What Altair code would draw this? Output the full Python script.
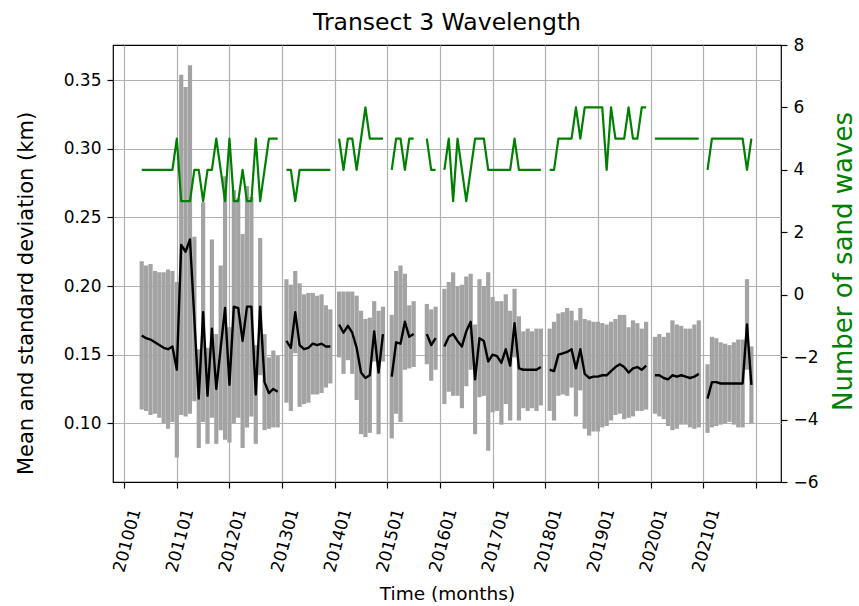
import altair as alt
import pandas as pd

# Monthly wavelength statistics for transect 3.
# Months are counted from January 2010 (0 = 201001); the record starts in May 2010.
month_start = 4

# mean wavelength (km); None marks a month without a survey
wave_mean = [
    0.164, 0.162, 0.161, 0.159, 0.157, 0.155, 0.154, 0.156,            # 2010-05 .. 2010-12
    0.139, 0.230, 0.225, 0.234, 0.176, 0.118, 0.181, 0.120, 0.169, 0.125, 0.155, 0.184,  # 2011
    0.128, 0.185, 0.184, 0.160, 0.185, 0.185, 0.121, 0.185, 0.130, 0.122, 0.125, 0.123,  # 2012
    None, 0.160, 0.155, 0.181, 0.157, 0.154, 0.155, 0.158, 0.157, 0.158, 0.156, 0.156,   # 2013
    None, 0.172, 0.166, 0.171, 0.166, 0.155, 0.137, 0.133, 0.135, 0.167, 0.137, 0.165,   # 2014
    None, 0.134, 0.159, 0.158, 0.174, 0.163, 0.165, None, None, 0.165, 0.157, 0.162,     # 2015
    None, 0.156, 0.163, 0.165, 0.160, 0.156, 0.167, 0.174, 0.132, 0.162, 0.160, 0.145,   # 2016
    0.150, 0.149, 0.144, 0.154, 0.142, 0.173, 0.140, 0.139, 0.139, 0.139, 0.139, 0.141,  # 2017
    None, 0.139, 0.138, 0.150, 0.151, 0.152, 0.154, 0.140, 0.154, 0.136, 0.133, 0.134,   # 2018
    0.134, 0.135, 0.135, 0.138, 0.141, 0.143, 0.141, 0.137, 0.140, 0.141, 0.139, 0.142,  # 2019
    None, 0.135, 0.135, 0.133, 0.132, 0.135, 0.134, 0.135, 0.134, 0.133, 0.134, 0.136,   # 2020
    None, 0.118, 0.130, 0.130, 0.129, 0.129, 0.129, 0.129, 0.129, 0.129, 0.172, 0.128,   # 2021
]

# standard deviation of the wavelength (km)
wave_std = [
    0.054, 0.053, 0.055, 0.052, 0.053, 0.055, 0.058, 0.055,
    0.064, 0.124, 0.120, 0.127, 0.060, 0.036, 0.080, 0.035, 0.065, 0.040, 0.060, 0.096,
    0.042, 0.085, 0.080, 0.078, 0.088, 0.080, 0.036, 0.050, 0.035, 0.026, 0.028, 0.026,
    None, 0.045, 0.046, 0.030, 0.045, 0.040, 0.040, 0.037, 0.036, 0.036, 0.030, 0.027,
    None, 0.024, 0.030, 0.025, 0.030, 0.038, 0.045, 0.043, 0.042, 0.022, 0.045, 0.020,
    None, 0.045, 0.052, 0.057, 0.035, 0.023, 0.024, None, None, 0.022, 0.026, 0.023,
    None, 0.042, 0.040, 0.045, 0.040, 0.045, 0.040, 0.035, 0.040, 0.043, 0.040, 0.065,
    0.042, 0.040, 0.045, 0.040, 0.040, 0.025, 0.038, 0.028, 0.030, 0.028, 0.030, 0.028,
    None, 0.030, 0.036, 0.030, 0.030, 0.032, 0.028, 0.035, 0.030, 0.040, 0.042, 0.040,
    0.040, 0.038, 0.037, 0.036, 0.035, 0.036, 0.038, 0.033, 0.035, 0.032, 0.030, 0.032,
    None, 0.028, 0.030, 0.030, 0.034, 0.040, 0.038, 0.036, 0.035, 0.036, 0.038, 0.039,
    None, 0.025, 0.033, 0.032, 0.030, 0.029, 0.028, 0.030, 0.032, 0.032, 0.033, 0.028,
]

# number of sand waves found along the transect
n_waves = [
    4, 4, 4, 4, 4, 4, 4, 4,
    5, 3, 3, 3, 4, 4, 3, 4, 4, 5, 4, 3,
    5, 3, 3, 4, 3, 3, 5, 3, 4, 5, 5, 5,
    None, 4, 4, 3, 4, 4, 4, 4, 4, 4, 4, 4,
    None, 5, 4, 5, 5, 4, 5, 6, 5, 5, 5, 5,
    None, 4, 5, 5, 4, 5, 5, None, None, 5, 4, 4,
    None, 4, 5, 3, 5, 4, 3, 4, 5, 5, 5, 4,
    4, 4, 4, 4, 4, 5, 4, 4, 4, 4, 4, 4,
    None, 4, 4, 5, 5, 5, 5, 6, 5, 6, 6, 6,
    6, 6, 4, 6, 5, 5, 5, 6, 5, 5, 6, 6,
    None, 5, 5, 5, 5, 5, 5, 5, 5, 5, 5, 5,
    None, 4, 5, 5, 5, 5, 5, 5, 5, 5, 4, 5,
]

# one label per January; the last tick (2022) stays unlabelled
tick_labels = ["201001", "201101", "201201", "201301", "201401", "201501",
               "201601", "201701", "201801", "201901", "202001", "202101", ""]
left_ticks = [0.10, 0.15, 0.20, 0.25, 0.30, 0.35]
right_ticks = [-6, -4, -2, 0, 2, 4, 6, 8]

FONT = "DejaVu Sans"
GREEN = "#008000"

months = list(range(month_start, month_start + len(wave_mean)))

# consecutive surveyed months form one unbroken line piece
segment = []
seg_id, gap = 0, True
for v in wave_mean:
    if v is None:
        segment.append(None)
        gap = True
        continue
    if gap:
        seg_id += 1
    gap = False
    segment.append(seg_id)

df = pd.DataFrame({"month": months, "mean": wave_mean, "std": wave_std,
                   "waves": n_waves, "seg": segment})
df = df.dropna(subset=["mean"]).copy()
df["seg"] = df["seg"].astype(int)
df["lo"] = df["mean"] - df["std"]
df["hi"] = df["mean"] + df["std"]

label_expr = "[" + ",".join(f"'{t}'" for t in tick_labels) + "][round(datum.value / 12)]"

x_enc = alt.X(
    "month:Q",
    scale=alt.Scale(domain=[-2.55, 149.75], nice=False, zero=False),
    axis=alt.Axis(
        values=[12 * i for i in range(len(tick_labels))],
        labelExpr=label_expr,
        labelAngle=-75,
        labelAlign="center",
        labelBaseline="middle",
        labelPadding=52,
        labelOffset=3,
        labelFlush=False,
        labelOverlap=False,
        grid=True,
        title="Time (months)",
        titleFontSize=18.5,
        titleX=334,
        titleY=117,
        titleAlign="center",
        titleBaseline="alphabetic",
    ),
)

left_axis = alt.Axis(
    values=left_ticks,
    format=".2f",
    grid=True,
    title="Mean and standard deviation (km)",
    titleFontSize=21,
    titleAngle=270,
    titleX=-87,
    titleY=248,
    titleAlign="center",
    titleBaseline="middle",
)
left_scale = alt.Scale(domain=[0.0572, 0.3757], nice=False, zero=False)

bars = alt.Chart(df).mark_rule(color="#a3a3a3", strokeWidth=4.2).encode(
    x=x_enc,
    y=alt.Y("lo:Q", scale=left_scale, axis=left_axis),
    y2="hi:Q",
)

mean_line = alt.Chart(df).mark_line(color="black", strokeWidth=2.4, strokeJoin="round").encode(
    x=x_enc,
    y=alt.Y("mean:Q", scale=left_scale, axis=left_axis),
    detail="seg:N",
    order="month:Q",
)

wave_line = alt.Chart(df).mark_line(color=GREEN, strokeWidth=2.2, strokeJoin="round").encode(
    x=x_enc,
    y=alt.Y(
        "waves:Q",
        scale=alt.Scale(domain=[-6, 8], nice=False, zero=False),
        axis=alt.Axis(
            orient="right",
            values=right_ticks,
            grid=False,
            title="Number of sand waves",
            titleColor=GREEN,
            titleFontSize=26,
            titleAngle=270,
            titleX=62,
            titleY=216,
            titleAlign="center",
            titleBaseline="middle",
        ),
    ),
    detail="seg:N",
    order="month:Q",
)

chart = (
    alt.layer(alt.layer(bars, mean_line), wave_line)
    .resolve_scale(y="independent")
    .properties(
        width=668,
        height=437,
        autosize=alt.AutoSizeParams(type="none"),
        padding={"left": 113, "top": 45, "right": 78, "bottom": 124},
        title=alt.TitleParams(
            "Transect 3 Wavelength",
            font=FONT,
            fontSize=23.5,
            fontWeight="normal",
            color="black",
            anchor="middle",
            baseline="alphabetic",
            offset=13,
            dy=30,
        ),
    )
    .configure(background="white")
    .configure_view(stroke="black", strokeWidth=1.2)
    .configure_axis(
        labelFont=FONT,
        titleFont=FONT,
        labelFontSize=17,
        labelColor="black",
        titleColor="black",
        titleFontWeight="normal",
        tickColor="black",
        tickSize=6,
        tickWidth=1.2,
        labelPadding=6,
        domain=False,
        gridColor="#b0b0b0",
        gridWidth=1.2,
    )
)

chart.save("out.html", embed_options={"renderer": "svg", "actions": False})
